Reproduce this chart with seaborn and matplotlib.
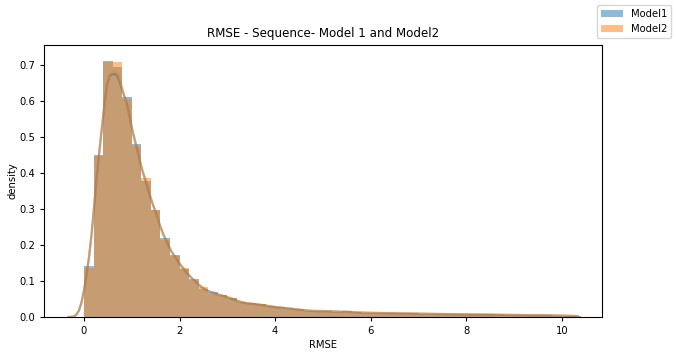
import numpy as np
import pandas as pd
import matplotlib
matplotlib.use("Agg")
import matplotlib.pyplot as plt
from matplotlib.patches import Patch
import seaborn as sns

# Histogram bins (RMSE), width 0.2
bin_width = 0.2
bin_range = (0.0, 10.4)
bin_centers = np.round(np.arange(0.1, 10.4, 0.2), 2)

model1_density = [
    0.141, 0.449, 0.711, 0.694, 0.612, 0.480, 0.379, 0.298, 0.220, 0.171,
    0.133, 0.105, 0.079, 0.070, 0.061, 0.052, 0.041, 0.038, 0.035, 0.030,
    0.027, 0.025, 0.021, 0.018, 0.016, 0.017, 0.015, 0.016, 0.013, 0.012,
    0.012, 0.011, 0.011, 0.010, 0.010, 0.009, 0.009, 0.008, 0.008, 0.008,
    0.007, 0.007, 0.007, 0.006, 0.006, 0.006, 0.005, 0.005, 0.005, 0.004,
    0.004, 0.003,
]
model2_density = [
    0.136, 0.448, 0.708, 0.708, 0.606, 0.475, 0.386, 0.297, 0.215, 0.170,
    0.137, 0.102, 0.083, 0.065, 0.060, 0.054, 0.041, 0.038, 0.035, 0.030,
    0.027, 0.023, 0.021, 0.018, 0.018, 0.017, 0.015, 0.014, 0.013, 0.012,
    0.012, 0.011, 0.011, 0.010, 0.010, 0.009, 0.009, 0.008, 0.008, 0.008,
    0.007, 0.007, 0.007, 0.007, 0.006, 0.006, 0.005, 0.005, 0.005, 0.004,
    0.004, 0.003,
]
labels = ["Model1", "Model2"]

df = pd.DataFrame({
    "RMSE": np.concatenate([bin_centers, bin_centers]),
    "density": np.concatenate([model1_density, model2_density]),
    "model": np.repeat(labels, len(bin_centers)),
})

colors = sns.color_palette()[:2]

fig = plt.figure(figsize=(6.76, 3.55), dpi=100)
ax = fig.add_axes([0.0655, 0.107, 0.825, 0.766])

bw = 0.106
for lab, col in zip(labels, colors):
    sub = df[df["model"] == lab]
    sns.histplot(data=sub, x="RMSE", weights="density", binwidth=bin_width,
                 binrange=bin_range, stat="count", color=col, alpha=0.5,
                 edgecolor="none", linewidth=0, ax=ax)
    w = sub["density"].to_numpy()
    xs = sub["RMSE"].to_numpy()
    mean = np.average(xs, weights=w)
    std = np.sqrt(np.average((xs - mean) ** 2, weights=w))
    sns.kdeplot(data=sub, x="RMSE", weights="density", bw_method=bw / std,
                cut=4.0, clip=(-0.32, 10.33), color=col, alpha=0.5,
                linewidth=1.6, ax=ax)

ax.set_xlim(-0.83, 10.84)
ax.set_ylim(0, 0.755)
ax.set_xticks([0, 2, 4, 6, 8, 10])
ax.set_yticks(np.round(np.arange(0, 0.71, 0.1), 1))
ax.tick_params(labelsize=7.2, length=3)
ax.set_xlabel("RMSE", fontsize=7.2, labelpad=2.5)
ax.set_ylabel("density", fontsize=7.2, labelpad=1.5)
ax.set_title("RMSE - Sequence- Model 1 and Model2", fontsize=8.6)

handles = [Patch(facecolor=c, alpha=0.5, edgecolor="none") for c in colors]
fig.legend(handles, labels, loc="upper right", fontsize=7.2,
           bbox_to_anchor=(1.0, 1.0), handlelength=2.2)

fig.savefig("out.png", dpi=100)
